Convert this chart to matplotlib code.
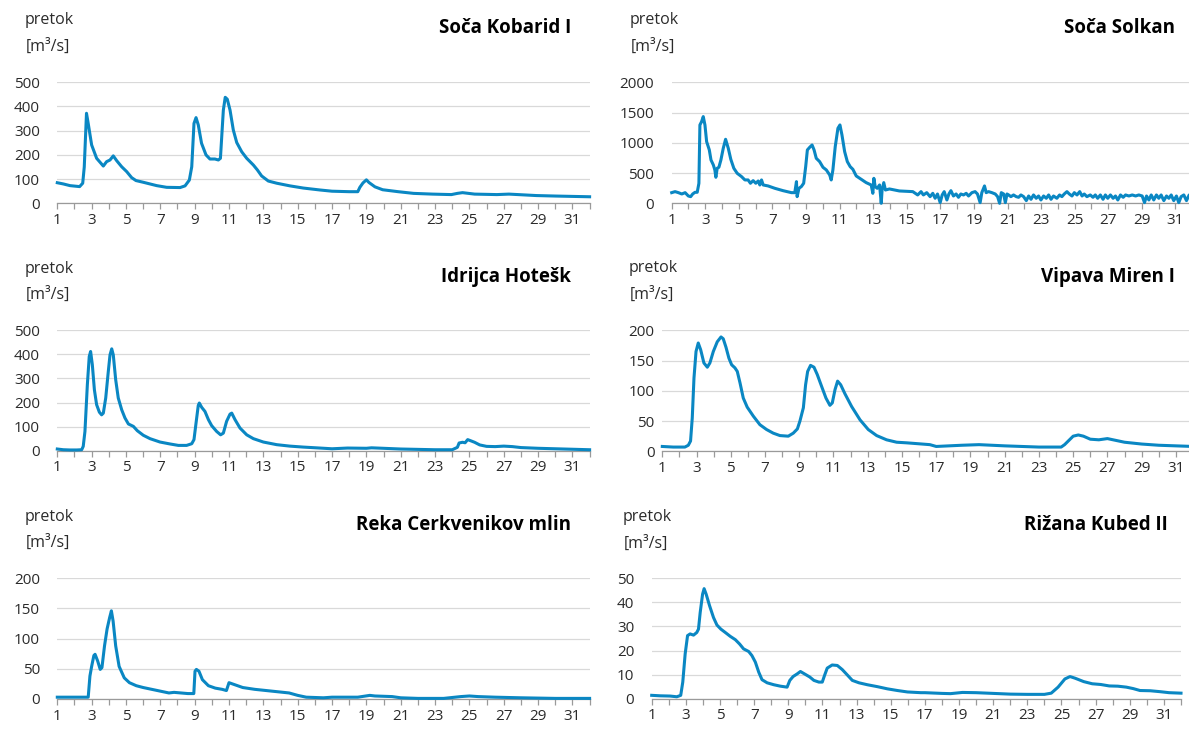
import matplotlib
matplotlib.use("Agg")
import matplotlib.pyplot as plt
from matplotlib.ticker import FixedLocator

plt.rcParams['font.family'] = ['Open Sans', 'DejaVu Sans']

# ---------------- data (day of month, discharge m3/s) ----------------
kobarid_x = [1.0, 1.35, 1.74, 2.3, 2.48, 2.57, 2.7, 2.8, 3.0, 3.29, 3.68, 3.87, 4.07, 4.26, 4.46,
             4.75, 5.04, 5.33, 5.58, 6.0, 6.79, 7.37, 8.15, 8.44, 8.69, 8.83, 8.96, 9.08, 9.21,
             9.4, 9.66, 9.89, 10.18, 10.38, 10.5, 10.67, 10.78, 10.9, 11.06, 11.25, 11.45, 11.74,
             12.03, 12.42, 12.65, 12.9, 13.29, 13.78, 14.55, 15.33, 16.3, 17.0, 18.0, 18.5, 18.62,
             18.8, 19.0, 19.15, 19.5, 19.95, 20.85, 21.75, 22.85, 23.95, 24.3, 24.6, 25.3, 26.6,
             27.3, 28.9, 30.0, 32.0]
kobarid_y = [85, 80, 73, 69, 83, 150, 372, 330, 241, 186, 154, 172, 179, 196, 176,
             151, 131, 106, 94, 87, 73, 66, 65, 72, 96, 151, 330, 354, 324,
             248, 200, 183, 183, 179, 186, 385, 438, 430, 385, 303, 251, 213,
             186, 158, 138, 113, 92, 83, 72, 63, 55, 50, 48, 48, 66,
             84, 97, 86, 68, 56, 48, 41, 38, 36, 41, 44, 38, 36,
             38, 32, 30, 27]

solkan_x = [1.0, 1.2, 1.4, 1.6, 1.8, 1.99, 2.13, 2.25, 2.39, 2.52, 2.62, 2.68, 2.78, 2.88, 2.98,
            3.08, 3.24, 3.34, 3.48, 3.57, 3.63, 3.71, 3.81, 3.93, 4.07, 4.21, 4.37, 4.52, 4.7,
            4.9, 5.16, 5.36, 5.55, 5.69, 5.85, 6.01, 6.15, 6.25, 6.35, 6.45, 6.74, 7.14, 7.63,
            8.13, 8.33, 8.43, 8.47, 8.58, 8.72, 8.86, 8.98, 9.08, 9.22, 9.36, 9.48, 9.61, 9.81,
            10.01, 10.21, 10.41, 10.5, 10.6, 10.74, 10.9, 11.02, 11.14, 11.3, 11.46, 11.63,
            11.79, 11.99, 12.29, 12.58, 12.88, 12.98, 13.04, 13.12, 13.24, 13.38, 13.48, 13.53,
            13.63, 13.73, 13.97, 14.56, 15.36, 15.65, 15.85, 15.99, 16.19, 16.39, 16.55, 16.69,
            16.83, 16.99, 17.11, 17.23, 17.39, 17.51, 17.63, 17.78, 17.94, 18.08, 18.22, 18.38,
            18.54, 18.68, 18.88, 19.07, 19.21, 19.37, 19.47, 19.63, 19.73, 19.87, 20.07, 20.27,
            20.41, 20.53, 20.63, 20.77, 20.87, 20.97, 21.07, 21.2, 21.36, 21.52, 21.66, 21.8,
            21.96, 22.12, 22.26, 22.4, 22.55, 22.71, 22.85, 22.99, 23.15, 23.31, 23.45, 23.59,
            23.74, 23.94, 24.1, 24.24, 24.38, 24.54, 24.68, 24.84, 24.98, 25.14, 25.3, 25.44,
            25.57, 25.73, 25.93, 26.09, 26.23, 26.37, 26.53, 26.69, 26.83, 26.97, 27.13, 27.29,
            27.43, 27.57, 27.73, 27.89, 28.03, 28.23, 28.43, 28.63, 28.82, 29.02, 29.16, 29.28,
            29.42, 29.56, 29.71, 29.87, 30.01, 30.15, 30.31, 30.47, 30.61, 30.75, 30.9, 31.06,
            31.2, 31.34, 31.5, 31.66, 31.82, 32.0]
solkan_y = [176, 193, 176, 154, 176, 121, 110, 154, 182, 182, 330, 1295, 1350, 1433, 1295,
            1019, 882, 716, 634, 551, 430, 579, 595, 716, 909, 1058, 909, 727, 579,
            496, 441, 386, 386, 331, 375, 331, 369, 303, 386, 303, 287, 248, 209,
            176, 176, 358, 110, 248, 276, 331, 606, 882, 926, 964, 882, 744, 689,
            595, 551, 468, 386, 551, 937, 1240, 1295, 1130, 854, 689, 606,
            562, 452, 397, 342, 303, 165, 413, 276, 248, 303, 0, 220,
            342, 220, 237, 204, 193, 138, 193, 138, 176, 110, 165, 83,
            154, 11, 138, 193, 55, 154, 209, 121, 154, 99, 154, 138,
            165, 121, 176, 193, 154, 11, 176, 287, 176, 193, 176, 154,
            110, 0, 176, 154, 11, 154, 138, 110, 138, 110, 99, 138,
            110, 44, 121, 66, 138, 83, 121, 55, 121, 83, 138, 66,
            121, 83, 138, 110, 154, 193, 154, 121, 176, 138, 193, 121,
            154, 110, 138, 99, 138, 83, 138, 66, 138, 83, 138, 83,
            121, 55, 138, 99, 138, 121, 138, 121, 138, 121, 11, 121,
            55, 138, 55, 138, 83, 138, 44, 121, 83, 138, 44, 121,
            11, 110, 138, 44, 138, 120]

idrijca_x = [1.0, 1.35, 1.74, 2.13, 2.42, 2.51, 2.61, 2.75, 2.86, 2.94, 3.04, 3.16, 3.29, 3.45,
             3.58, 3.68, 3.82, 3.97, 4.07, 4.17, 4.26, 4.4, 4.55, 4.75, 4.94, 5.14, 5.43, 5.66,
             6.01, 6.4, 6.98, 7.56, 8.05, 8.53, 8.83, 8.96, 9.08, 9.21, 9.27, 9.41, 9.6, 9.8,
             9.99, 10.28, 10.51, 10.67, 10.86, 11.06, 11.16, 11.35, 11.64, 12.03, 12.42, 13.0,
             13.78, 14.55, 15.33, 16.3, 17.0, 17.9, 19.0, 19.3, 21.0, 23.0, 24.0, 24.3, 24.4,
             24.6, 24.75, 24.9, 25.05, 25.3, 25.6, 26.0, 26.5, 27.0, 27.5, 28.0, 29.0, 30.0,
             31.0, 32.0]
idrijca_y = [7, 4, 3, 3, 4, 18, 80, 274, 391, 412, 357, 253, 191, 160,
             149, 156, 219, 329, 398, 423, 398, 295, 219, 170, 136, 111, 101, 83,
             64, 50, 36, 28, 22, 22, 29, 46, 115, 188, 198, 180, 163, 129,
             104, 80, 66, 73, 122, 152, 156, 129, 94, 66, 50, 36,
             25, 19, 15, 11, 8, 11, 10, 12, 7, 4, 4, 14, 32,
             35, 33, 46, 42, 35, 24, 18, 17, 19, 17, 13, 10, 8,
             6, 4]

vipava_x = [1.0, 1.64, 2.32, 2.52, 2.65, 2.75, 2.85, 2.97, 3.1, 3.24, 3.43, 3.63, 3.78, 3.98,
            4.21, 4.43, 4.56, 4.72, 4.89, 5.05, 5.24, 5.38, 5.54, 5.73, 5.96, 6.32, 6.7, 7.09,
            7.48, 7.87, 8.36, 8.65, 8.89, 9.04, 9.24, 9.37, 9.49, 9.66, 9.86, 10.05, 10.31,
            10.56, 10.79, 10.93, 11.09, 11.24, 11.42, 11.67, 12.06, 12.55, 13.03, 13.52, 14.1,
            14.69, 15.27, 16.63, 17.0, 18.5, 19.5, 21.0, 23.0, 24.3, 24.5, 25.0, 25.3, 25.6,
            26.0, 26.5, 27.0, 27.5, 28.0, 29.0, 30.0, 31.0, 32.0]
vipava_y = [8, 7, 7, 10, 17, 55, 121, 165, 179, 168, 146, 139, 146, 165,
            181, 189, 186, 172, 154, 143, 138, 132, 113, 88, 73, 58, 44, 36,
            30, 26, 25, 30, 37, 50, 72, 110, 132, 142, 139, 127, 107,
            88, 76, 80, 102, 116, 110, 95, 74, 52, 36, 26, 19,
            15, 14, 11, 8, 10, 11, 9, 7, 7, 11, 25, 27, 25,
            20, 19, 21, 18, 15, 12, 10, 9, 8]

reka_x = [1.0, 2.0, 2.8, 2.9, 3.0, 3.13, 3.2, 3.35, 3.5, 3.6, 3.75, 3.9, 4.05, 4.15, 4.25, 4.4,
          4.6, 4.9, 5.2, 5.6, 6.0, 6.5, 7.0, 7.5, 7.8, 8.2, 8.6, 8.95, 9.02, 9.1, 9.25, 9.45,
          9.8, 10.2, 10.6, 10.85, 11.0, 11.3, 11.8, 12.5, 13.5, 14.5, 15.0, 15.5, 16.5, 17.0,
          18.5, 19.2, 19.5, 20.5, 21.0, 22.0, 23.5, 24.5, 25.0, 25.5, 26.5, 28.0, 30.0, 32.0]
reka_y = [3, 3, 3, 38, 54, 72, 74, 63, 49, 52, 88, 116, 135, 146, 129, 88,
          54, 35, 27, 22, 19, 16, 13, 10, 11, 10, 9, 9, 46, 49, 46, 32,
          22, 18, 16, 14, 27, 24, 19, 16, 13, 10, 6, 3, 2, 3,
          3, 6, 5, 4, 2, 1, 1, 4, 5, 4, 3, 2, 1, 1]

rizana_x = [1.0, 1.5, 2.08, 2.47, 2.7, 2.82, 2.96, 3.1, 3.25, 3.45, 3.64, 3.74, 3.84, 3.98, 4.07,
            4.19, 4.39, 4.62, 4.82, 5.05, 5.31, 5.6, 5.9, 6.15, 6.38, 6.68, 6.87, 7.07, 7.27,
            7.46, 7.76, 8.15, 8.54, 8.93, 9.09, 9.28, 9.52, 9.71, 9.95, 10.26, 10.5, 10.79,
            10.99, 11.12, 11.28, 11.57, 11.87, 12.16, 12.45, 12.75, 13.14, 13.63, 14.22, 14.8,
            15.39, 15.98, 16.76, 17.0, 18.0, 18.5, 19.2, 20.0, 21.0, 22.0, 23.0, 24.0, 24.4,
            24.8, 25.2, 25.5, 25.8, 26.3, 26.8, 27.3, 27.8, 28.3, 28.8, 29.2, 29.6, 30.2, 30.8,
            31.3, 32.0]
rizana_y = [1.4, 1.2, 1.1, 0.8, 1.4, 6.9, 18.6, 26.2, 26.9, 26.4, 27.5, 28.9, 35.8, 43.4, 45.7,
            43.4, 38.6, 33.7, 30.6, 28.9, 27.5, 25.9, 24.5, 22.7, 20.7, 19.6, 17.9, 15.2, 11.0,
            7.9, 6.6, 5.8, 5.2, 4.8, 7.6, 9.2, 10.3, 11.3, 10.3, 9.0, 7.6, 6.9,
            6.9, 9.6, 12.7, 14.0, 13.8, 12.1, 9.9, 7.6, 6.6, 5.8, 5.0, 4.1,
            3.4, 2.8, 2.5, 2.5, 2.2, 2.1, 2.6, 2.5, 2.2, 1.9, 1.8, 1.8, 2.3,
            4.8, 8.2, 9.2, 8.5, 7.1, 6.2, 5.9, 5.3, 5.2, 4.8, 4.2, 3.4, 3.3, 2.9,
            2.5, 2.3]

titles = ["Soča Kobarid I", "Soča Solkan", "Idrijca Hotešk",
          "Vipava Miren I", "Reka Cerkvenikov mlin", "Rižana Kubed II"]
y_ticks = [[0, 100, 200, 300, 400, 500], [0, 500, 1000, 1500, 2000],
           [0, 100, 200, 300, 400, 500], [0, 50, 100, 150, 200],
           [0, 50, 100, 150, 200], [0, 10, 20, 30, 40, 50]]
x_major = list(range(1, 32, 2))
x_minor = list(range(2, 33, 2))
series = [(kobarid_x, kobarid_y), (solkan_x, solkan_y), (idrijca_x, idrijca_y),
          (vipava_x, vipava_y), (reka_x, reka_y), (rizana_x, rizana_y)]

# ---------------- layout (pixels) ----------------
W, H = 1189, 731
# left, right, top, bottom of plotting area
rects = [(57.3, 589.6, 82.3, 203.3), (671.7, 1192.2, 82.3, 203.3),
         (57.3, 589.6, 330.3, 450.7), (662.3, 1193.0, 330.3, 451.3),
         (57.3, 589.6, 578.2, 699.0), (651.7, 1181.0, 578.3, 698.7)]
ypads = [12.5, 12.5, 12.5, 5.5, 12.5, 12.5]
title_pos = [(571, 28), (1175, 28), (571, 277), (1175, 277), (571, 525), (1168, 525)]
unit_pos = [(25, 20, 47), (630, 20, 47), (25, 269, 295), (629, 268, 295),
            (25, 517, 543), (623, 517, 544)]

LINE = '#0a87c3'
GRID = '#d9d9d9'
AX = '#9a9a9a'
TXT = '#2b2b2b'

fig = plt.figure(figsize=(W / 100, H / 100), dpi=100)
for i, (xs, ys) in enumerate(series):
    l, r, t, b = rects[i]
    ax = fig.add_axes([l / W, 1 - b / H, (r - l) / W, (b - t) / H])
    ax.plot(xs, ys, color=LINE, lw=2.2, solid_joinstyle='round', clip_on=False, zorder=3)
    ax.set_xlim(1, 32)
    ax.set_ylim(0, y_ticks[i][-1])
    ax.set_yticks(y_ticks[i])
    ax.xaxis.set_major_locator(FixedLocator(x_major))
    ax.xaxis.set_minor_locator(FixedLocator(x_minor))
    ax.set_xticklabels([str(v) for v in x_major])
    ax.grid(axis='y', color=GRID, lw=0.9, zorder=0)
    ax.set_axisbelow(True)
    for s in ['top', 'right', 'left']:
        ax.spines[s].set_visible(False)
    ax.spines['bottom'].set_color(AX)
    ax.spines['bottom'].set_linewidth(0.9)
    ax.tick_params(axis='y', length=0, pad=ypads[i], labelsize=11, labelcolor=TXT)
    ax.tick_params(axis='x', which='major', length=4.5, width=0.9, color=AX, pad=2.5,
                   labelsize=11, labelcolor=TXT)
    ax.tick_params(axis='x', which='minor', length=4, width=0.9, color=AX)
    tx, ty = title_pos[i]
    fig.text(tx / W, 1 - ty / H, titles[i], ha='right', va='center', fontsize=13.5,
             fontweight='bold', color='black')
    ux, uy1, uy2 = unit_pos[i]
    fig.text(ux / W, 1 - uy1 / H, 'pretok', ha='left', va='center', fontsize=11.5, color=TXT)
    fig.text((ux + 1) / W, 1 - uy2 / H, '[m³/s]', ha='left', va='center', fontsize=11.5, color=TXT)

fig.savefig('out.png', dpi=100)
